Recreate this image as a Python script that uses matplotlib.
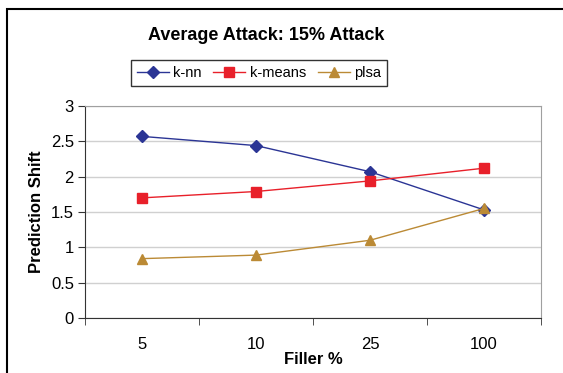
import matplotlib.pyplot as plt
from matplotlib.patches import Rectangle

plt.rcParams['font.family'] = ['Liberation Sans', 'DejaVu Sans']

fillers = ['5', '10', '25', '100']
knn = [2.57, 2.44, 2.07, 1.53]
kmeans = [1.70, 1.79, 1.94, 2.12]
plsa = [0.84, 0.89, 1.10, 1.55]

fig = plt.figure(figsize=(5.63, 3.73), dpi=100)
ax = fig.add_axes([85 / 563, 1 - 318 / 373, 456 / 563, 212 / 373])

# outer chart frame, runs off the right and bottom edges
fig.patches.append(Rectangle((7 / 563, -0.1), 1.2, 1.1 - 9 / 373,
                             transform=fig.transFigure, fill=False,
                             edgecolor='black', linewidth=1.5))

x = range(len(fillers))
ax.plot(x, knn, color='#2b3595', marker='D', markersize=6, linewidth=1, label='k-nn')
ax.plot(x, kmeans, color='#e8202a', marker='s', markersize=7, linewidth=1, label='k-means')
ax.plot(x, plsa, color='#bb8a35', marker='^', markersize=7, linewidth=1, label='plsa')

ax.set_xlim(-0.5, 3.5)
ax.set_ylim(0, 3)
ax.set_yticks([0, 0.5, 1, 1.5, 2, 2.5, 3])
ax.set_yticklabels(['0', '0.5', '1', '1.5', '2', '2.5', '3'])
ax.set_xticks(list(x))
ax.set_xticklabels(fillers)
ax.set_xticks([-0.5, 0.5, 1.5, 2.5, 3.5], minor=True)
ax.tick_params(axis='x', which='major', length=0, pad=14, labelsize=12)
ax.tick_params(axis='x', which='minor', length=5, direction='out', color='#333333')
ax.tick_params(axis='y', length=5, direction='out', color='#333333', labelsize=12, pad=3)
ax.grid(axis='y', color='#d0d0d0', linewidth=1)
ax.set_axisbelow(True)

for side in ('top', 'right'):
    ax.spines[side].set_color('#a0a0a0')
for side in ('left', 'bottom'):
    ax.spines[side].set_color('#333333')

ax.set_xlabel('Filler %', fontsize=12, fontweight='bold', labelpad=0)
ax.set_ylabel('Prediction Shift', fontsize=12, fontweight='bold', labelpad=5)

fig.text(266 / 563, 1 - 35 / 373, 'Average Attack: 15% Attack', ha='center', va='center',
         fontsize=13, fontweight='bold')
fig.legend(loc='center', bbox_to_anchor=(259 / 563, 1 - 73 / 373), ncol=3,
           fontsize=10.5, frameon=True, fancybox=False, edgecolor='black',
           handlelength=2.2, handletextpad=0.3, columnspacing=0.8, borderpad=0.4)

fig.savefig('out.png', dpi=100)
